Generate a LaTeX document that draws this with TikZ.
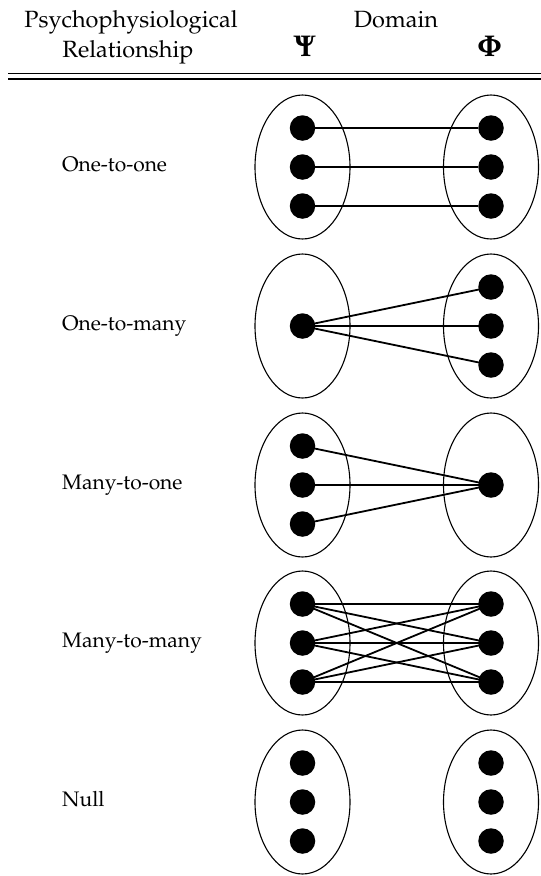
\documentclass[tikz,border=0pt]{standalone}
\usepackage[T1]{fontenc}
\usepackage{mathpazo}
\usepackage{bm}
\usetikzlibrary{shapes.geometric}
\begin{document}
\begin{tikzpicture}[x=1pt,y=-1pt,
  lbl/.style={font=\fontsize{21}{25}\selectfont, inner sep=0pt},
  hdr/.style={font=\fontsize{23.5}{28}\selectfont, inner sep=0pt},
  grk/.style={font=\fontsize{30}{34}\selectfont, inner sep=0pt},
  dot/.style={circle, fill=black, minimum size=25.5pt, inner sep=0pt},
  setell/.style={ellipse, draw, line width=1.1pt, minimum width=95pt, minimum height=144pt, inner sep=0pt},
  conn/.style={line width=1.8pt}
]
\useasboundingbox (0,0) rectangle (541,876);
% header
\node[hdr, anchor=base] (h1) at (131,27) {Psychophysiological};
\node[hdr, anchor=base] (h2) at (128,57) {Relationship};
\node[hdr, anchor=base] (h3) at (396,27) {Domain};
\node[grk, anchor=base] (psi) at (305,56.5) {$\bm{\Psi}$};
\node[grk, anchor=base] (phi) at (489.5,56.5) {$\bm{\Phi}$};
\coordinate (la) at (8,73);
\coordinate (lb) at (541,73);
\coordinate (lc) at (8,79);
\coordinate (ld) at (541,79);
\draw[line width=1pt] (la) -- (lb);
\draw[line width=2pt] (lc) -- (ld);
% rows
\foreach \r/\yy/\txt in {1/167/One-to-one, 2/326/One-to-many, 3/485/Many-to-one, 4/643/Many-to-many, 5/802/Null}{
  \node[lbl, anchor=base west] (t\r) at (62,\yy+4) {\txt};
  \node[setell] (L\r) at (302.5,\yy) {};
  \node[setell] (R\r) at (491,\yy) {};
}
% row 1
\foreach \i/\d in {a/-39,b/0,c/39}{
  \node[dot] (l1\i) at (302.5,167+\d) {};
  \node[dot] (r1\i) at (491,167+\d) {};
}
\foreach \i in {a,b,c}{ \draw[conn] (l1\i) -- (r1\i); }
% row 2
\node[dot] (l2b) at (302.5,326) {};
\foreach \i/\d in {a/-39,b/0,c/39}{
  \node[dot] (r2\i) at (491,326+\d) {};
  \draw[conn] (l2b.center) -- (r2\i.center);
}
% row 3
\node[dot] (r3b) at (491,485) {};
\foreach \i/\d in {a/-39,b/0,c/39}{
  \node[dot] (l3\i) at (302.5,485+\d) {};
  \draw[conn] (l3\i.center) -- (r3b.center);
}
% row 4
\foreach \i/\d in {a/-39,b/0,c/39}{
  \node[dot] (l4\i) at (302.5,643+\d) {};
  \node[dot] (r4\i) at (491,643+\d) {};
}
\foreach \i in {a,b,c}{ \foreach \j in {a,b,c}{ \draw[conn] (l4\i.center) -- (r4\j.center); } }
% row 5
\foreach \i/\d in {a/-39,b/0,c/39}{
  \node[dot] (l5\i) at (302.5,802+\d) {};
  \node[dot] (r5\i) at (491,802+\d) {};
}
\end{tikzpicture}
\end{document}
